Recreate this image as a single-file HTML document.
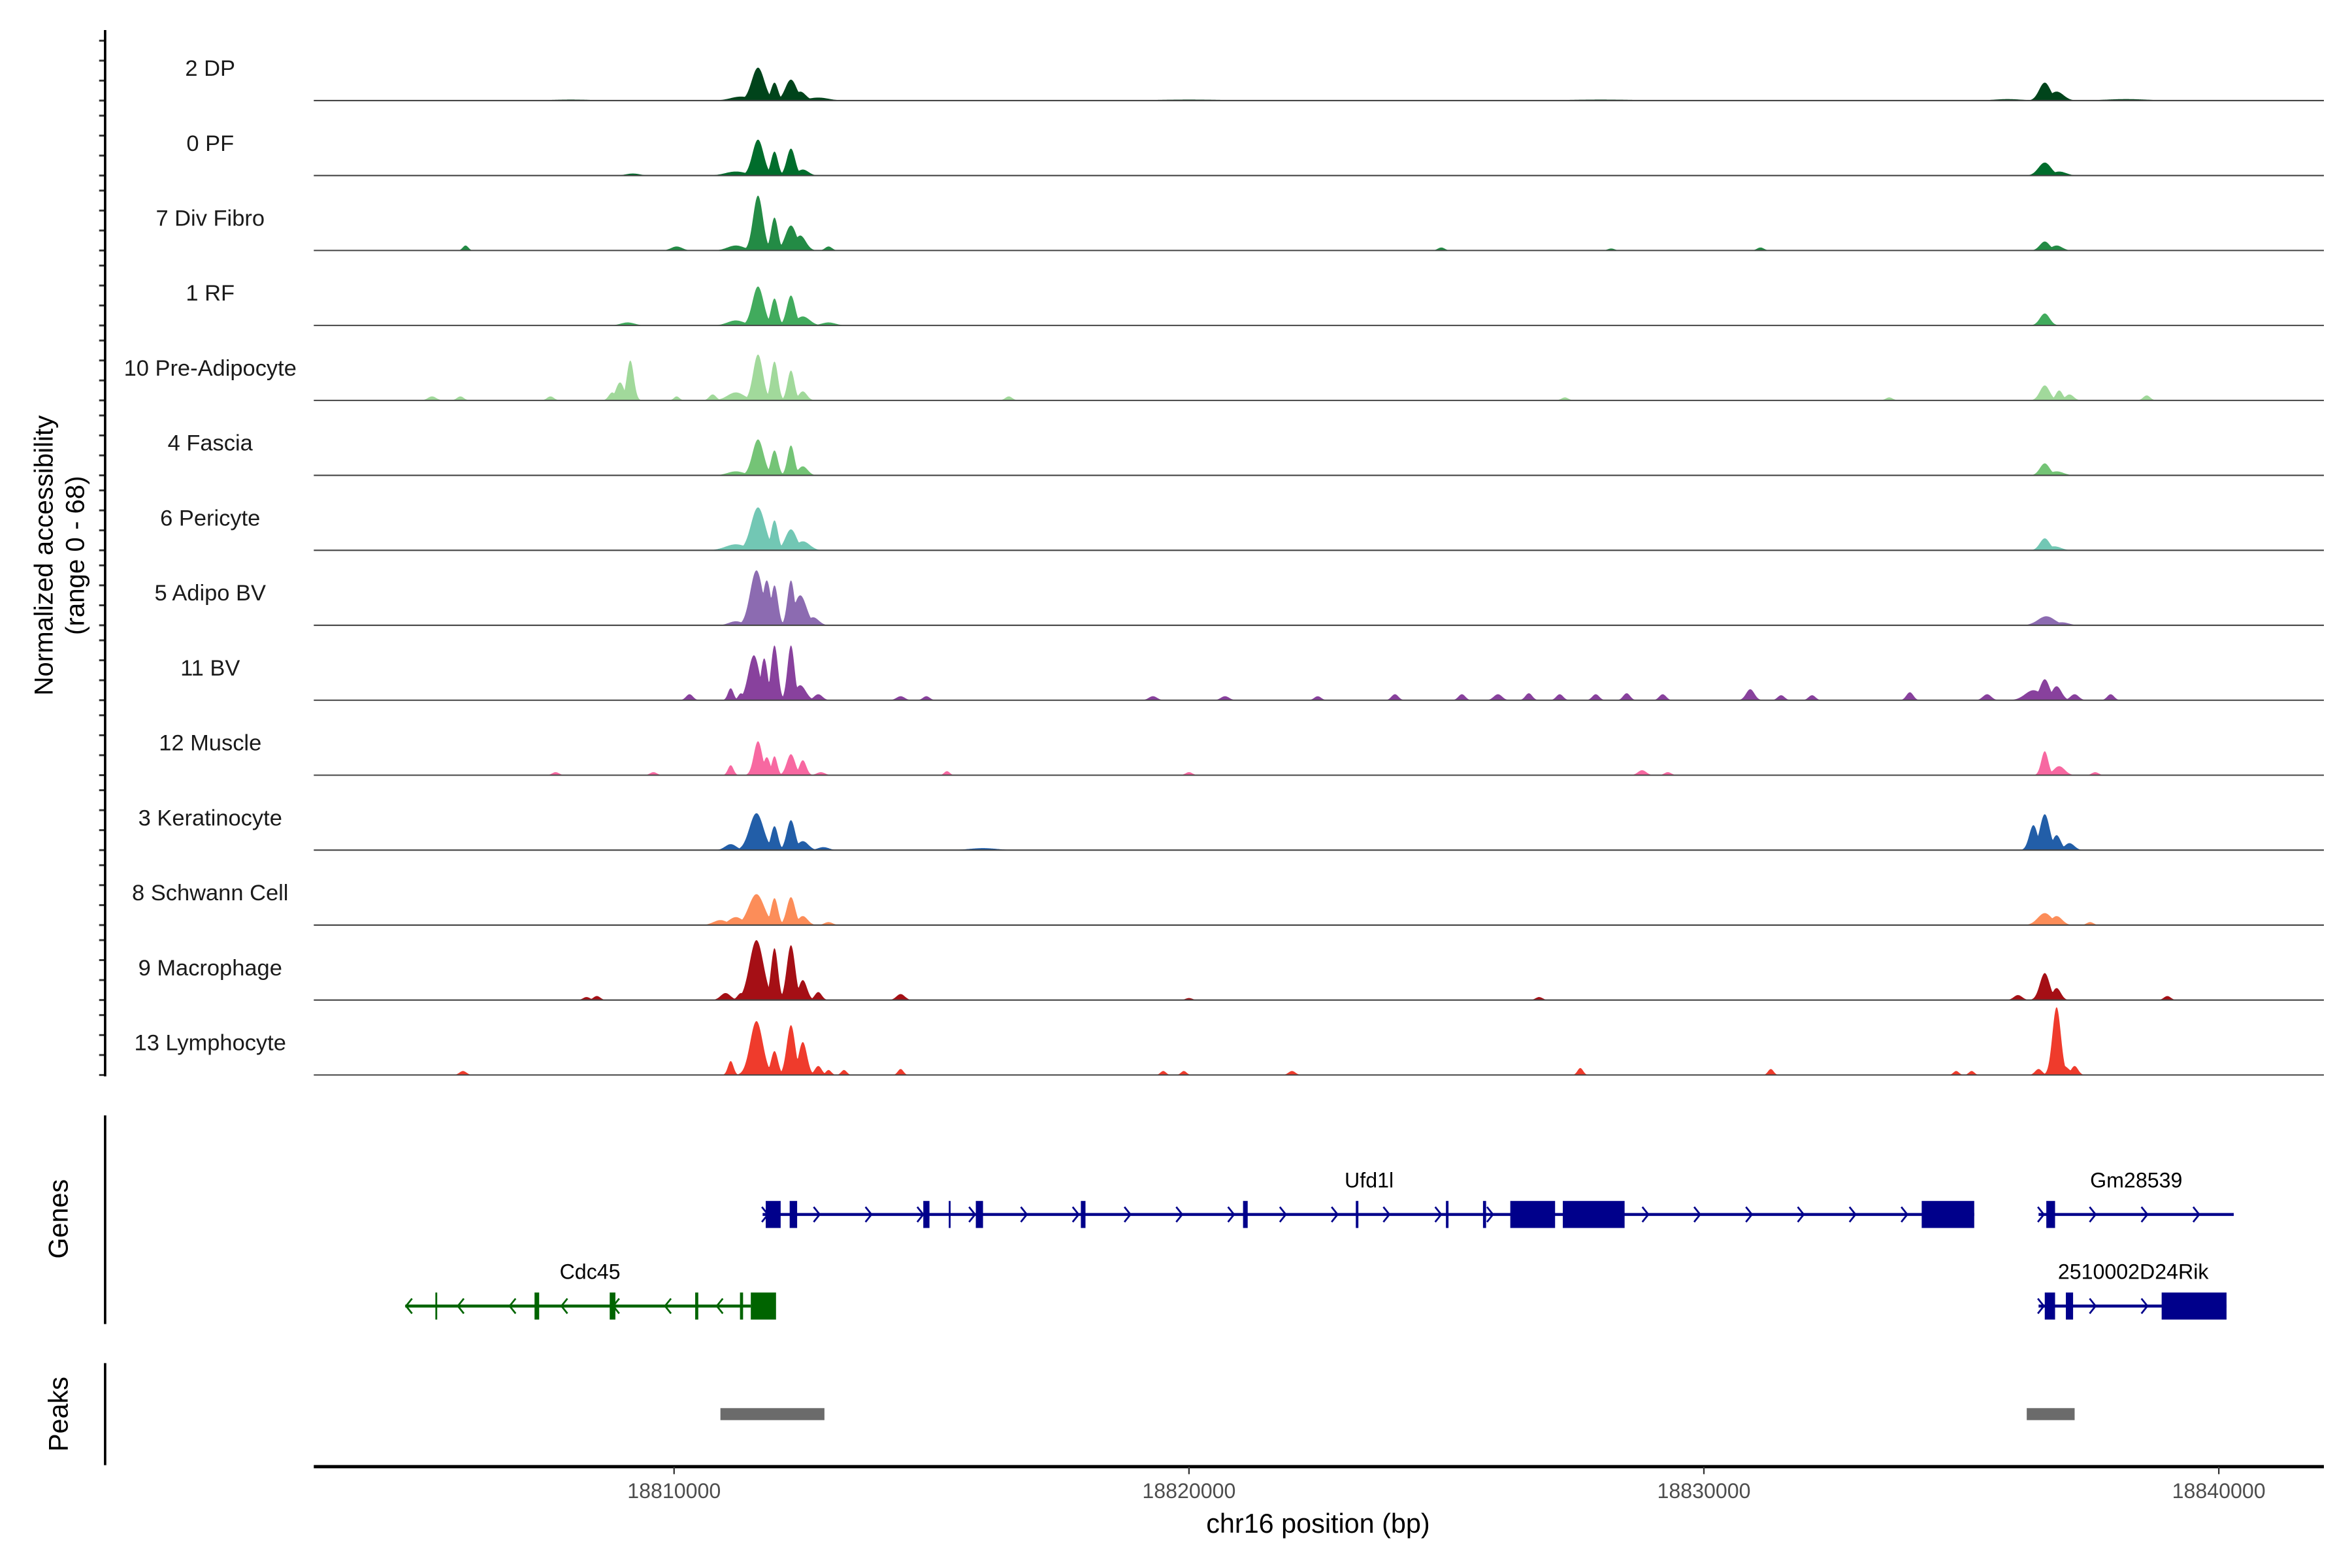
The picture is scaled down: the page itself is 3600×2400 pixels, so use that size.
<!DOCTYPE html>
<html><head><meta charset="utf-8"><style>
html,body{margin:0;padding:0;background:#fff;}
svg{display:block;font-family:"Liberation Sans",Arial,sans-serif;}
</style></head><body>
<svg id="chart" xmlns="http://www.w3.org/2000/svg" width="3600" height="2400" viewBox="0 0 1566.7 1044.5">
<rect x="0" y="0" width="1566.7" height="1044.5" fill="#fff"/>
<g id="tracks"></g>
<g id="genes"></g>
<g id="peaks"></g>
<g id="axes"></g>
</svg>
<script>
const trackNames=["2 DP","0 PF","7 Div Fibro","1 RF","10 Pre-Adipocyte","4 Fascia","6 Pericyte","5 Adipo BV","11 BV","12 Muscle","3 Keratinocyte","8 Schwann Cell","9 Macrophage","13 Lymphocyte"];
const trackColors=["#00441b","#006d2c","#238b45","#41ab5d","#a1d99b","#74c476","#72c7b4","#8c6bb1","#88419d","#f768a1","#225ea8","#fc8d59","#a50f15","#ef3b2c"];
// peaks per track: position (kb offset from 18800000), height (0-68), width (kb)
const peakPos=[
[11.63,11.95,12.27,12.45,11.3,12.8,36.62,36.85,35.9,38.2,8,20,28],
[11.63,11.95,12.27,12.5,11.2,36.62,36.9,9.2],
[11.63,11.95,12.27,12.45,11.2,13.0,5.95,10.05,36.62,36.85,24.9,31.1,28.2],
[11.63,11.95,12.27,12.5,11.2,13.0,36.62,9.1],
[11.63,11.95,12.27,12.5,11.2,10.75,9.15,8.95,8.8,5.3,5.85,7.6,10.05,36.62,36.9,37.1,38.6,16.5,27.3,33.6],
[11.63,11.95,12.27,12.5,11.2,36.62,36.85],
[11.63,11.95,12.27,12.5,11.2,36.62,36.8],
[11.6,11.8,11.95,12.27,12.45,12.7,11.2,36.65,36.95],
[11.55,11.75,11.95,12.27,12.45,12.8,11.1,11.3,10.3,14.4,14.9,19.3,20.7,22.5,24.0,25.3,26.0,26.6,27.2,27.9,28.5,29.2,30.9,31.5,32.1,35.5,34.0,36.4,36.62,36.85,37.2,37.9],
[11.63,11.8,11.95,12.27,12.5,11.1,12.85,7.7,9.6,15.3,20.0,28.8,29.3,36.62,36.9,37.6],
[11.6,11.95,12.27,12.5,11.1,12.9,36.4,36.62,36.85,37.1,16.0],
[11.6,11.95,12.27,12.5,11.2,10.9,13.0,36.62,36.85,37.5],
[11.6,11.95,12.27,12.5,12.8,11.3,11.0,14.4,8.5,8.3,36.1,36.62,36.85,39.0,20.0,26.8],
[11.6,11.95,12.27,12.5,11.1,11.35,12.8,13.0,13.3,14.4,5.9,19.5,19.9,22.0,27.6,31.3,34.9,35.2,36.5,36.85,37.2,36.95]
];
const peakHeight=[
[33,18,21,9,4,3,18,9,1.5,1.5,1,1,1],
[36,24,27,6,4,13,4,2],
[55,33,25,15,5,4,5,4,9,5,3,3,2],
[39,27,30,9,5,3,12,3],
[46,39,30,9,8,6,40,18,8,4,4,4,4,15,10,6,5,4,3,3],
[36,25,30,9,4,12,4],
[43,30,21,9,6,12,4],
[55,45,40,45,30,8,4,9,3],
[45,42,55,55,15,6,12,7,6,4,4,4,4,4,6,6,6,7,6,6,7,6,11,5,5,6,8,10,21,14,6,6],
[34,18,19,21,15,10,3,3,3,4,3,5,3,24,9,3],
[37,24,30,9,6,3,25,36,15,7,2],
[31,27,28,9,8,5,3,12,9,3],
[60,52,55,20,8,7,7,6,4,3,5,27,12,4,2,3],
[54,24,50,33,14,5,9,5,5,6,4,4,4,4,7,6,4,4,6,68,9,10]
];
const peakWidth=[
[.09,.05,.08,.08,.15,.15,.08,.1,.2,.3,.3,.5,.5],
[.08,.05,.06,.08,.15,.09,.1,.1],
[.07,.05,.08,.08,.12,.05,.04,.08,.07,.08,.05,.05,.05],
[.08,.05,.06,.1,.12,.1,.07,.1],
[.07,.05,.05,.06,.12,.05,.05,.06,.05,.06,.05,.05,.04,.07,.05,.06,.05,.05,.05,.05],
[.08,.05,.05,.07,.12,.07,.1],
[.1,.05,.08,.1,.15,.07,.1],
[.09,.06,.05,.05,.09,.08,.1,.12,.1],
[.08,.05,.05,.05,.08,.06,.04,.04,.05,.06,.05,.06,.06,.05,.05,.05,.06,.05,.05,.05,.05,.05,.06,.05,.05,.06,.05,.12,.07,.07,.06,.05],
[.06,.05,.04,.06,.05,.04,.06,.05,.05,.04,.05,.06,.05,.05,.08,.05],
[.1,.05,.06,.08,.08,.08,.06,.07,.06,.07,.2],
[.11,.05,.06,.07,.1,.1,.06,.1,.08,.05],
[.1,.05,.06,.06,.05,.05,.07,.06,.05,.05,.06,.07,.06,.05,.05,.05],
[.09,.05,.06,.06,.04,.03,.05,.04,.04,.04,.05,.04,.04,.05,.04,.04,.04,.04,.05,.06,.05,.1]
];
const xTicks=[10,20,30,40];
const xTickLabels=["18810000","18820000","18830000","18840000"];
const yTickValues=[0,20,40,60];
const geneNames=["Ufd1l","Gm28539","Cdc45","2510002D24Rik"];
const geneStart=[11.72,36.50,4.78,36.50];
const geneEnd=[35.25,40.29,11.49,40.15];
const geneStrand=[1,1,-1,1];
const geneRow=[0,0,1,1];
const geneColor=["#00008b","#00008b","#006400","#00008b"];
const geneExons=[
[[11.78,12.07],[12.245,12.39],[14.84,14.96],[15.335,15.37],[15.86,16.0],[17.9,17.99],[21.05,21.14],[23.24,23.29],[24.99,25.04],[25.71,25.77],[26.24,27.11],[27.26,28.46],[34.23,35.25]],
[[36.65,36.82]],
[[5.364,5.40],[7.29,7.38],[8.75,8.86],[10.41,10.47],[11.28,11.34],[11.49,11.98]],
[[36.62,36.82],[37.03,37.17],[38.89,40.15]]
];
const peakStart=[10.90,36.27];
const peakEnd=[12.92,37.20];

const NS="http://www.w3.org/2000/svg";
const X0=209,X1=1548;
function xs(kb){return 449+(kb-10)*34.3;}
function xinv(px){return 10+(px-449)/34.3;}
const YS=0.665;
const WSCALE=1.35;
function el(tag,attrs,parent){const e=document.createElementNS(NS,tag);for(const k in attrs)e.setAttribute(k,attrs[k]);parent.appendChild(e);return e;}

const gT=document.getElementById('tracks');
trackNames.forEach((name,i)=>{
  const base=67+i*49.93;
  const g=el('g',{},gT);
  
  
  let d='M'+X0+','+base;
  for(let px=X0;px<=X1;px+=0.5){
    const kb=xinv(px);let v=0;
    const P=peakPos[i],H=peakHeight[i],W=peakWidth[i];
    for(let j=0;j<P.length;j++){const z=(kb-P[j])/(W[j]*WSCALE);if(Math.abs(z)<4){const f=H[j]*Math.exp(-0.5*z*z);if(f>v)v=f;}}
    if(v>68)v=68;
    if(v<0.4)v=0;
    d+='L'+px+','+(base-v*YS).toFixed(2);
  }
  d+='L'+X1+','+base+'Z';
  const a=el('path',{d:d,fill:trackColors[i],stroke:'none'},g);
  
  
  const bl=el('line',{x1:X0,x2:X1,y1:base,y2:base,stroke:'#444','stroke-width':0.9},g);
  
  
  const t=el('text',{x:140,y:base-16.5,'text-anchor':'middle','font-size':15,fill:'#1a1a1a'},g);
  t.textContent=name;
  
  
  yTickValues.forEach(v=>{
    const tk=el('line',{x1:66,x2:70,y1:base-v*YS,y2:base-v*YS,stroke:'#333','stroke-width':1.3},g);
    
    
  });
});

const gG=document.getElementById('genes');
geneNames.forEach((name,i)=>{
  const y=geneRow[i]===0?809:870;
  const c=geneColor[i];
  const g=el('g',{},gG);
  
  
  const x1=xs(geneStart[i]),x2=xs(geneEnd[i]);
  el('line',{x1:x1,x2:x2,y1:y,y2:y,stroke:c,'stroke-width':2},g);
  for(let ax=x1+2;ax<x2-2;ax+=34.5){
    const s=geneStrand[i];
    el('path',{d:`M${ax-s*2.5},${y-5}L${ax+s*1.5},${y}L${ax-s*2.5},${y+5}`,fill:'none',stroke:c,'stroke-width':1.2},g);
  }
  geneExons[i].forEach(e=>{
    const r=el('rect',{x:xs(e[0]),y:y-9,width:Math.max(1,xs(e[1])-xs(e[0])),height:18,fill:c},g);
    
    
  });
  const lx={"Ufd1l":912,"Gm28539":1423,"Cdc45":393,"2510002D24Rik":1421}[name];
  const t=el('text',{x:lx,y:y-18,'text-anchor':'middle','font-size':14,fill:'#000'},g);
  t.textContent=name;
  
  
});

const gP=document.getElementById('peaks');
peakStart.forEach((s,i)=>{
  const r=el('rect',{x:xs(s),y:938,width:xs(peakEnd[i])-xs(s),height:8,fill:'#6b6b6b'},gP);
  
  
});

const gA=document.getElementById('axes');
function ln(a,name){const l=el('line',a,gA);return l;}
ln({x1:70,x2:70,y1:20,y2:717,stroke:'#000','stroke-width':1.6},'y-axis-line');
ln({x1:70,x2:70,y1:743,y2:882,stroke:'#000','stroke-width':1.6},'genes-axis-line');
ln({x1:70,x2:70,y1:908,y2:976,stroke:'#000','stroke-width':1.6},'peaks-axis-line');
ln({x1:X0,x2:X1,y1:977,y2:977,stroke:'#000','stroke-width':2.2},'x-axis-line');
xTicks.forEach((v,i)=>{
  ln({x1:xs(v),x2:xs(v),y1:977,y2:982,stroke:'#333','stroke-width':1},'x-tick');
  const t=el('text',{x:xs(v),y:998,'text-anchor':'middle','font-size':14,fill:'#4d4d4d'},gA);
  t.textContent=xTickLabels[i];
  
  
});
function txt(s,a,name){const t=el('text',a,gA);t.textContent=s;return t;}
txt('chr16 position (bp)',{x:878,y:1021,'text-anchor':'middle','font-size':18,fill:'#000'},'x-axis-title');
txt('Normalized accessibility',{x:0,y:0,'text-anchor':'middle','font-size':17.5,fill:'#000',transform:'translate(35,370) rotate(-90)'},'y-axis-title');
txt('(range 0 - 68)',{x:0,y:0,'text-anchor':'middle','font-size':17.5,fill:'#000',transform:'translate(56,370) rotate(-90)'},'y-axis-range');
txt('Genes',{x:0,y:0,'text-anchor':'middle','font-size':18,fill:'#000',transform:'translate(45,812) rotate(-90)'},'genes-title');
txt('Peaks',{x:0,y:0,'text-anchor':'middle','font-size':18,fill:'#000',transform:'translate(45,942) rotate(-90)'},'peaks-title');
</script>
</body></html>
